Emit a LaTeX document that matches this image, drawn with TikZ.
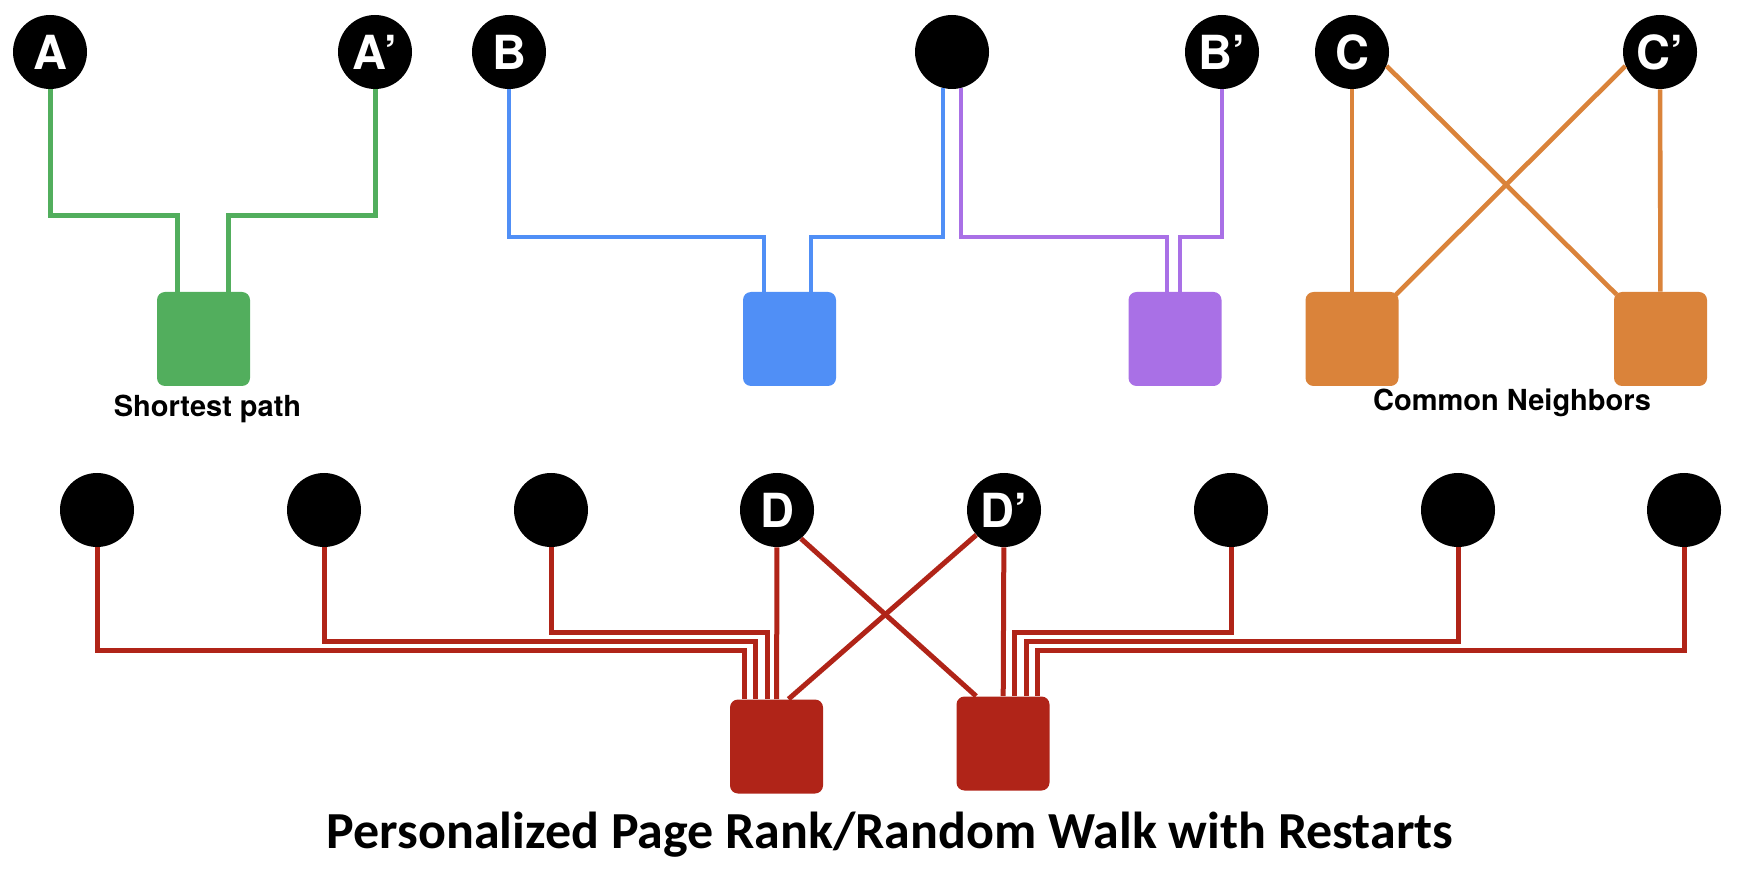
\documentclass[tikz,border=0pt]{standalone}
\usepackage{fontspec}
\setsansfont{TeX Gyre Heros}
\newfontfamily\titlefont{Carlito}
\usepackage{tikz}
\usetikzlibrary{positioning}
\definecolor{spGreen}{RGB}{82,174,93}
\definecolor{adBlue}{RGB}{80,143,246}
\definecolor{adPurple}{RGB}{169,112,230}
\definecolor{cnOrange}{RGB}{218,131,58}
\definecolor{prRed}{RGB}{176,36,24}
\newcommand{\wire}[5]{\draw[link,#1] (#2) -- ++(0,#3) -| (#4.north -| #5,0)}
\newcommand{\hub}[3]{\node[sq,fill=#1] (#2) at (#3) {}}

\begin{document}
\begin{tikzpicture}[x=0.5pt,y=-0.5pt,
  dot/.style={circle,fill=black,text=white,inner sep=0pt,minimum size=37pt,
    font=\sffamily\bfseries\fontsize{23.5}{24}\selectfont},
  sq/.style={rectangle,rounded corners=4pt,inner sep=0pt,
    minimum width=46.5pt,minimum height=47pt},
  lab/.style={inner sep=0pt,font=\sffamily\bfseries\fontsize{14.5}{16}\selectfont},
  link/.style={line width=2.3pt}]
    \useasboundingbox (0,0) rectangle (1738,876);
    \node[dot] (A) at (50,52) {A};
    \node[dot] (Ap) at (375,52) {A’};
    \node[dot] (B) at (509,52) {B};
    \node[dot] (Bm) at (952,52) {};
    \node[dot] (Bp) at (1222,52) {B’};
    \node[dot] (C) at (1352,52) {C};
    \node[dot] (Cp) at (1660,52) {C’};
    \hub{spGreen}{spBox}{203.5,339};
    \hub{adBlue}{abBox}{789.5,339};
    \hub{adPurple}{apBox}{1175,339};
    \hub{cnOrange}{cnBoxL}{1352,339};
    \hub{cnOrange}{cnBoxR}{1660.5,339};
    \wire{spGreen,line width=2.5pt}{A.south}{126}{spBox}{177};
    \wire{spGreen,line width=2.5pt}{Ap.south}{126}{spBox}{228};
    \wire{adBlue,line width=2pt}{B.south}{148}{abBox}{764};
    \wire{adBlue,line width=2pt}{Bm.-104}{149}{abBox}{811};
    \wire{adPurple,line width=2pt}{Bm.-76}{149}{apBox}{1167};
    \wire{adPurple,line width=2pt}{Bp.south}{148}{apBox}{1180};
    \draw[link,cnOrange] (C) -- (cnBoxL);
    \draw[link,cnOrange] (Cp) -- (cnBoxR);
    \draw[link,cnOrange] (C.-22) -- ([xshift=1.5pt,yshift=-1.5pt]cnBoxR.north west);
    \draw[link,cnOrange] (Cp.202) -- ([xshift=-1.5pt,yshift=-1.5pt]cnBoxL.north east);
    \node[lab,below=4pt of spBox,xshift=2pt] (spText) {Shortest path};
    \node[lab,anchor=base] (cnText) at (1512,411) {Common Neighbors};
    \node[dot] (n1) at (97,510) {};
    \node[dot] (n2) at (324,510) {};
    \node[dot] (n3) at (551,510) {};
    \node[dot] (D) at (777,510) {D};
    \node[dot] (Dp) at (1004,510) {D’};
    \node[dot] (n6) at (1231,510) {};
    \node[dot] (n7) at (1458,510) {};
    \node[dot] (n8) at (1684,510) {};
    \hub{prRed}{prBoxL}{776.5,746.5};
    \hub{prRed}{prBoxR}{1003,743.5};
    \wire{prRed,line width=2.5pt}{n1.south}{103}{prBoxL}{744};
    \wire{prRed,line width=2.5pt}{n2.south}{94}{prBoxL}{755};
    \wire{prRed,line width=2.5pt}{n3.south}{85}{prBoxL}{767};
    \wire{prRed,line width=2.5pt}{n6.south}{85}{prBoxR}{1014};
    \wire{prRed,line width=2.5pt}{n7.south}{94}{prBoxR}{1026};
    \wire{prRed,line width=2.5pt}{n8.south}{103}{prBoxR}{1037};
    \draw[link,prRed,line width=2.5pt] (D) -- (prBoxL);
    \draw[link,prRed,line width=2.5pt] (Dp) -- (prBoxR);
    \draw[link,prRed,line width=2.5pt] (D.-50) -- ([xshift=10pt]prBoxR.north west);
    \draw[link,prRed,line width=2.5pt] (Dp.222) -- ([xshift=6pt]prBoxL.north);
    \node[anchor=base,inner sep=0pt,font=\titlefont\bfseries\fontsize{26}{28}\selectfont] (title) at (890,848)
      {Personalized Page Rank/Random Walk with Restarts};
\end{tikzpicture}
\end{document}
